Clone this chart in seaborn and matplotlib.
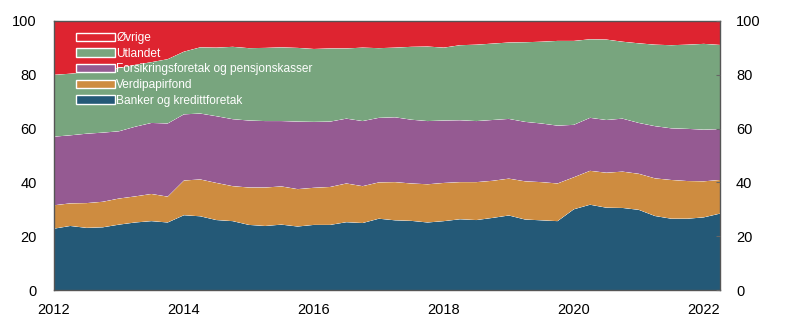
import numpy as np
import pandas as pd
import matplotlib
matplotlib.use("Agg")
import matplotlib.pyplot as plt
from matplotlib.patches import Patch
import seaborn as sns
import seaborn.objects as so

# Quarterly dates 2012Q1 .. 2022Q2 (as decimal years)
dates = [2012 + 0.25 * i for i in range(42)]

# Cumulative tops (percent)
banker = [22.8, 23.8, 23.1, 23.3, 24.3, 25.1, 25.6, 25.1, 27.8, 27.4,
          26.0, 25.6, 24.2, 23.8, 24.3, 23.6, 24.2, 24.2, 25.2, 24.9,
          26.5, 25.9, 25.7, 25.1, 25.6, 26.3, 26.0, 26.8, 27.7, 26.2,
          25.9, 25.6, 30.0, 31.7, 30.6, 30.5, 29.8, 27.5, 26.5, 26.5,
          27.0, 28.4]
verdipapir_top = [31.5, 32.2, 32.3, 32.8, 34.0, 34.8, 35.7, 34.7, 40.7, 41.1,
                  39.8, 38.6, 38.1, 38.1, 38.5, 37.5, 38.0, 38.3, 39.6, 38.6,
                  40.0, 40.1, 39.6, 39.3, 39.8, 40.1, 40.1, 40.6, 41.4, 40.4,
                  40.1, 39.6, 41.9, 44.3, 43.6, 44.0, 43.2, 41.5, 40.9, 40.5,
                  40.4, 40.9]
forsikring_top = [57.0, 57.5, 58.1, 58.5, 59.0, 60.7, 62.1, 61.9, 65.3, 65.6,
                  64.6, 63.5, 63.0, 62.8, 62.8, 62.6, 62.5, 62.6, 63.7, 62.8,
                  64.0, 64.2, 63.3, 62.8, 63.0, 63.1, 62.8, 63.2, 63.6, 62.5,
                  61.9, 61.1, 61.4, 64.0, 63.2, 63.7, 62.1, 60.9, 60.1, 59.9,
                  59.6, 59.8]
utlandet_top = [80.0, 80.4, 81.0, 81.6, 82.5, 83.7, 84.7, 85.8, 88.6, 90.2,
                90.1, 90.4, 89.9, 90.0, 90.2, 90.0, 89.6, 89.8, 89.8, 90.1,
                89.9, 90.1, 90.4, 90.5, 90.1, 91.0, 91.2, 91.6, 92.0, 92.1,
                92.3, 92.6, 92.6, 93.2, 93.1, 92.3, 91.7, 91.2, 91.0, 91.2,
                91.5, 91.1]

series_names = ["Banker og kredittforetak", "Verdipapirfond",
                "Forsikringsforetak og pensjonskasser", "Utlandet", "Øvrige"]
colors = ["#245977", "#CE8C40", "#955A92", "#78A57E", "#DE2430"]

b = np.array(banker)
v = np.array(verdipapir_top) - b
f = np.array(forsikring_top) - np.array(verdipapir_top)
u = np.array(utlandet_top) - np.array(forsikring_top)
o = 100 - np.array(utlandet_top)
shares = [b, v, f, u, o]

df = pd.concat([pd.DataFrame({"date": dates, "value": s, "series": n})
                for s, n in zip(shares, series_names)], ignore_index=True)

sns.set_style("white")
plt.rcParams["font.family"] = ["Liberation Sans", "DejaVu Sans"]

fig = plt.figure(figsize=(7.96, 3.31), dpi=100)
ax = fig.add_axes([54 / 796, 41 / 331, 666 / 796, 269 / 331])

(so.Plot(df, x="date", y="value", color="series")
   .add(so.Area(alpha=1, edgewidth=0), so.Stack(), legend=False)
   .scale(color=so.Nominal(colors, order=series_names))
   .on(ax)
   .plot())

ax.set_xlim(2012, 2022.25)
ax.set_ylim(0, 100)
ax.set_xlabel("")
ax.set_ylabel("")
ax.set_xticks([2012, 2014, 2016, 2018, 2020, 2022])
ax.set_xticklabels(["2012", "2014", "2016", "2018", "2020", "2022"])
ax.set_yticks([0, 20, 40, 60, 80, 100])
ax.set_yticklabels(["0", "20", "40", "60", "80", "100"])
ax.tick_params(axis="both", direction="in", length=3, color="#666666",
               labelsize=10.5, labelcolor="black")
ax.tick_params(axis="y", pad=12.5)
ax.tick_params(axis="x", pad=9.5)
for sp in ax.spines.values():
    sp.set_visible(True)
    sp.set_color("#555555")
    sp.set_linewidth(1.0)

ax2 = ax.twinx()
ax2.set_ylim(0, 100)
ax2.set_yticks([0, 20, 40, 60, 80, 100])
ax2.set_yticklabels(["0", "20", "40", "60", "80", "100"])
ax2.tick_params(axis="y", direction="in", length=3, color="#666666",
                labelsize=10.5, labelcolor="black", pad=11.5)
for sp in ax2.spines.values():
    sp.set_visible(False)

handles = [Patch(facecolor=c, edgecolor="white", linewidth=1.0)
           for c in colors][::-1]
labels = series_names[::-1]
leg = ax.legend(handles, labels, loc="upper left", bbox_to_anchor=(0.022, 0.985),
                frameon=False, fontsize=8.6, handlelength=3.3, handleheight=0.7,
                handletextpad=0.1, labelspacing=0.3, borderaxespad=0.2)
for t in leg.get_texts():
    t.set_color("white")

fig.savefig("out.png", dpi=100)
